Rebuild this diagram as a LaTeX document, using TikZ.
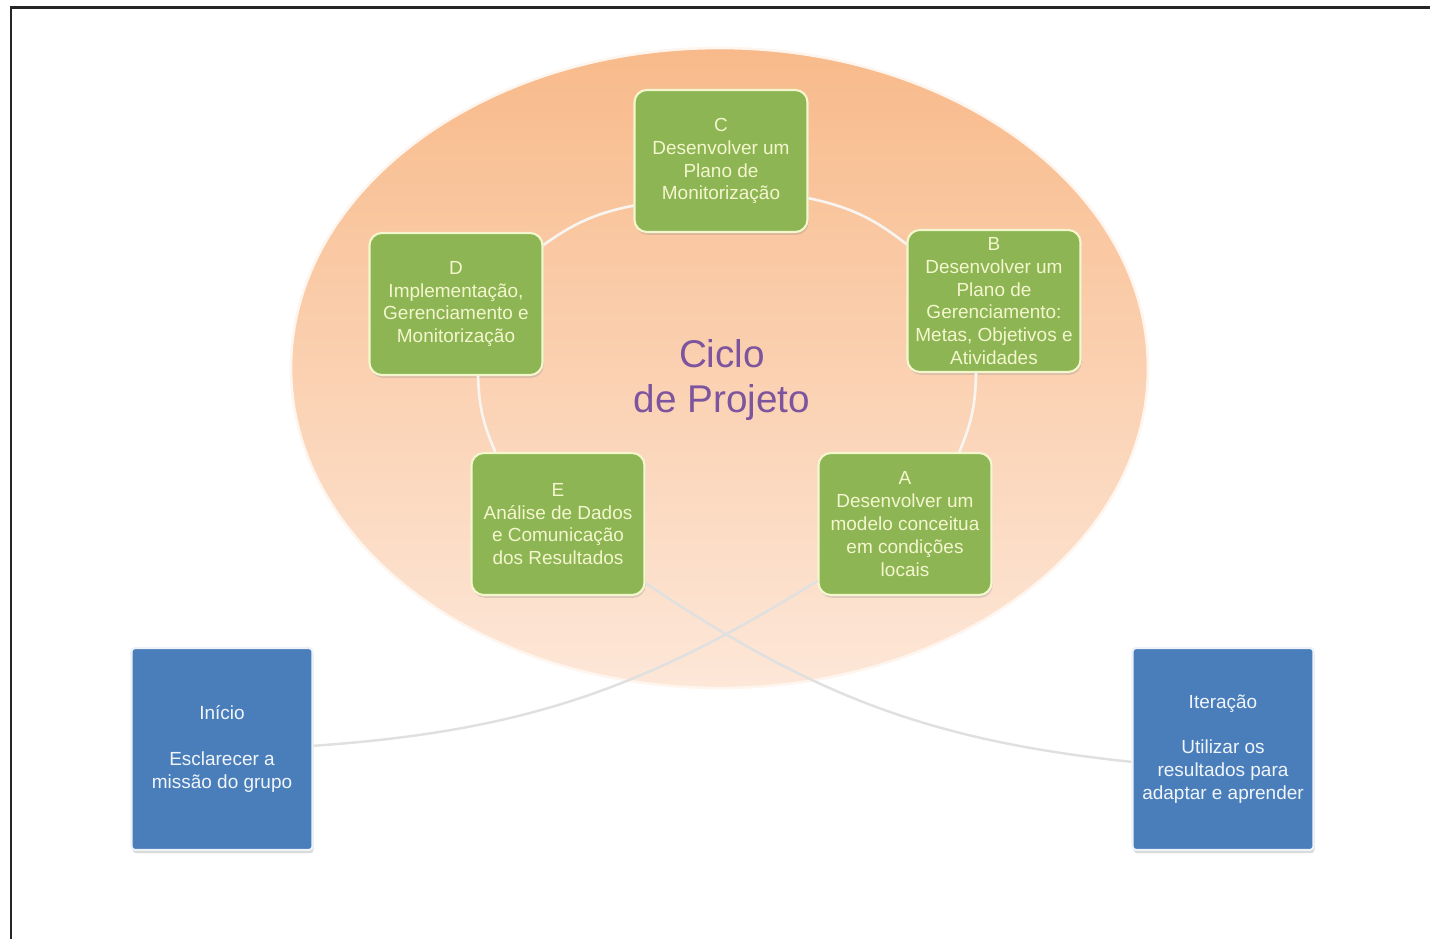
\documentclass[tikz,border=0pt]{standalone}
\usepackage{fontspec}
\setmainfont{Liberation Sans}
\usetikzlibrary{shadows}

\definecolor{ringorange}{RGB}{248,186,138}
\definecolor{ringpeach}{RGB}{253,231,216}
\definecolor{stepgreen}{RGB}{141,181,84}
\definecolor{stepcream}{RGB}{244,246,206}
\definecolor{sideblue}{RGB}{74,126,187}
\definecolor{titlepurple}{RGB}{125,84,158}
\definecolor{arcwhite}{RGB}{248,245,241}

\tikzset{
  phase/.style={draw=stepcream, line width=1.2pt, fill=stepgreen, rounded corners=7pt,
    minimum width=3.46cm, minimum height=2.84cm, inner sep=1pt, align=center,
    text=stepcream, font=\fontsize{10.8}{13}\selectfont,
    drop shadow={opacity=0.25, shadow xshift=0.6pt, shadow yshift=-1.6pt}},
  sidebox/.style={draw=white!90!sideblue, line width=1.2pt, fill=sideblue, rounded corners=2pt,
    minimum width=3.62cm, minimum height=4.04cm, inner sep=1pt, align=center,
    text=white!92!sideblue, font=\fontsize{10.8}{13}\selectfont,
    drop shadow={opacity=0.3, shadow xshift=0.6pt, shadow yshift=-1.8pt}},
  cyclearc/.style={arcwhite, line width=1.5pt},
  crossline/.style={white!88!black, line width=1.4pt}
}

\begin{document}
\begin{tikzpicture}

\useasboundingbox (0,0) rectangle (28.6,18.78);

\draw[line width=1.6pt, black!85] (0.22,0) -- (0.22,18.63) -- (28.6,18.63);

\shade[top color=ringorange, bottom color=ringpeach, draw=white!60!ringpeach, line width=1.5pt]
  (14.39,11.42) ellipse [x radius=8.57, y radius=6.4];

\node[font=\fontsize{22}{26}\selectfont, text=titlepurple, align=center] (titulo) at (14.44,11.18) {Ciclo\\de Projeto};

\node[phase] (c) at (14.42,15.56) {C\\Desenvolver um\\Plano de\\Monitorização};
\node[phase] (b) at (19.88,12.76) {B\\Desenvolver um\\Plano de\\Gerenciamento:\\Metas, Objetivos e\\Atividades};
\node[phase] (a) at (18.10,8.30) {A\\Desenvolver um\\modelo conceitua\\em condições\\locais};
\node[phase] (e) at (11.16,8.30) {E\\Análise de Dados\\e Comunicação\\dos Resultados};
\node[phase] (d) at (9.12,12.70) {D\\Implementação,\\Gerenciamento e\\Monitorização};

\node[sidebox] (ini) at (4.44,3.80) {Início\\[13pt]Esclarecer a\\missão do grupo};
\node[sidebox] (iter) at (24.46,3.80) {Iteração\\[13pt]Utilizar os\\resultados para\\adaptar e aprender};

\draw[cyclearc] (d.34) to[bend left=12] (c.207);
\draw[cyclearc] (c.337) to[bend left=13] (b.147);
\draw[cyclearc] (b.256) to[bend left=11] (a.53);
\draw[cyclearc] (e.131) to[bend left=11] (d.287);

\draw[crossline] (a.213) to[out=212, in=4] (ini.2);
\draw[crossline] (e.326) to[out=-34, in=174] (iter.188);
\end{tikzpicture}
\end{document}
